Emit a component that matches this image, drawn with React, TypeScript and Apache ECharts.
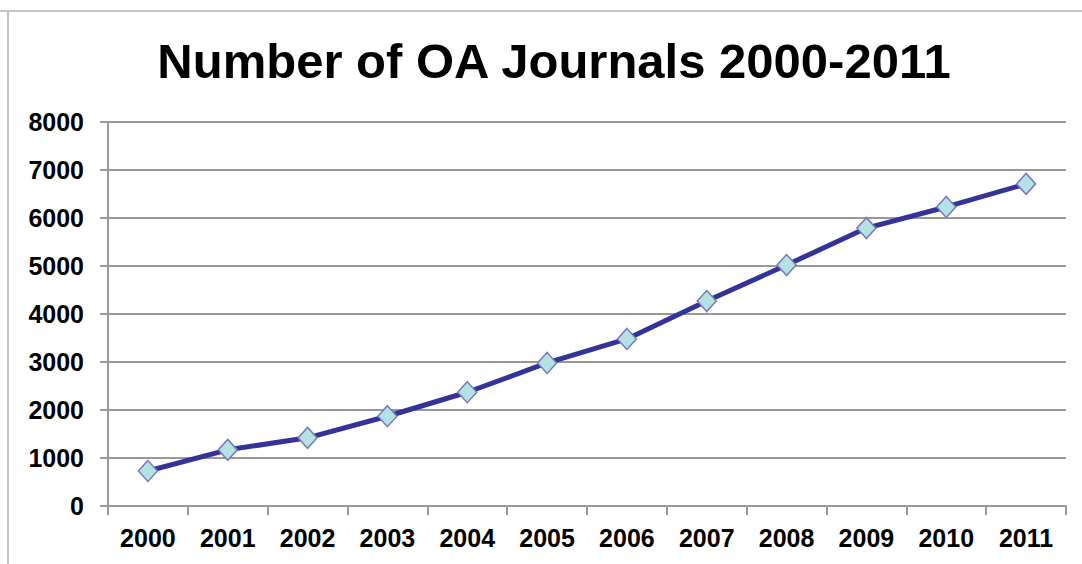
import React, { useEffect, useRef } from "react";
import * as echarts from "echarts";

const years = ["2000", "2001", "2002", "2003", "2004", "2005", "2006", "2007", "2008", "2009", "2010", "2011"];
const journals = [730, 1170, 1420, 1870, 2370, 2980, 3480, 4270, 5020, 5790, 6230, 6710];
const titleText = "Number of OA Journals 2000-2011";

export default function App() {
  const ref = useRef<HTMLDivElement>(null);
  useEffect(() => {
    if (!ref.current) return;
    const chart = echarts.init(ref.current, null, { renderer: "svg" });
    const font = "Liberation Sans, Arial, sans-serif";
    chart.setOption({
      animation: false,
      backgroundColor: "#ffffff",
      title: {
        text: titleText,
        left: 549,
        textAlign: "center",
        top: 31,
        textStyle: { fontFamily: font, fontWeight: "bold", fontSize: 49, color: "#000000" },
      },
      graphic: [
        {
          type: "line",
          shape: { x1: 0, y1: 11, x2: 1082, y2: 11 },
          style: { stroke: "#c4c4c4", lineWidth: 2 },
        },
        {
          type: "line",
          shape: { x1: 8, y1: 11, x2: 8, y2: 564 },
          style: { stroke: "#c4c4c4", lineWidth: 2 },
        },
      ],
      grid: { left: 108, top: 122, right: 16, bottom: 58, containLabel: false },
      xAxis: {
        type: "category",
        data: years,
        boundaryGap: true,
        axisLine: { lineStyle: { color: "#999999", width: 2 } },
        axisTick: { show: true, length: 9, lineStyle: { color: "#999999", width: 2 } },
        axisLabel: { fontFamily: font, fontWeight: "bold", fontSize: 25, color: "#000000", margin: 19 },
      },
      yAxis: {
        type: "value",
        min: 0,
        max: 8000,
        interval: 1000,
        axisLine: { show: true, lineStyle: { color: "#999999", width: 2 } },
        axisTick: { show: true, length: 8, lineStyle: { color: "#999999", width: 2 } },
        splitLine: { lineStyle: { color: "#999999", width: 2 } },
        axisLabel: {
          fontFamily: font,
          fontWeight: "bold",
          fontSize: 25,
          color: "#000000",
          margin: 24,
          formatter: (v: number) => String(v),
        },
      },
      series: [
        {
          type: "line",
          data: journals,
          lineStyle: { color: "#333399", width: 5 },
          symbol: "diamond",
          symbolSize: [19, 21],
          itemStyle: { color: "#b4e2e4", borderColor: "#7878b8", borderWidth: 1.5 },
          z: 3,
        },
      ],
    });
    return () => chart.dispose();
  }, []);
  return (
    <div
      ref={ref}
      style={{ position: "fixed", left: 0, top: 0, width: 1082, height: 564 }}
    />
  );
}
